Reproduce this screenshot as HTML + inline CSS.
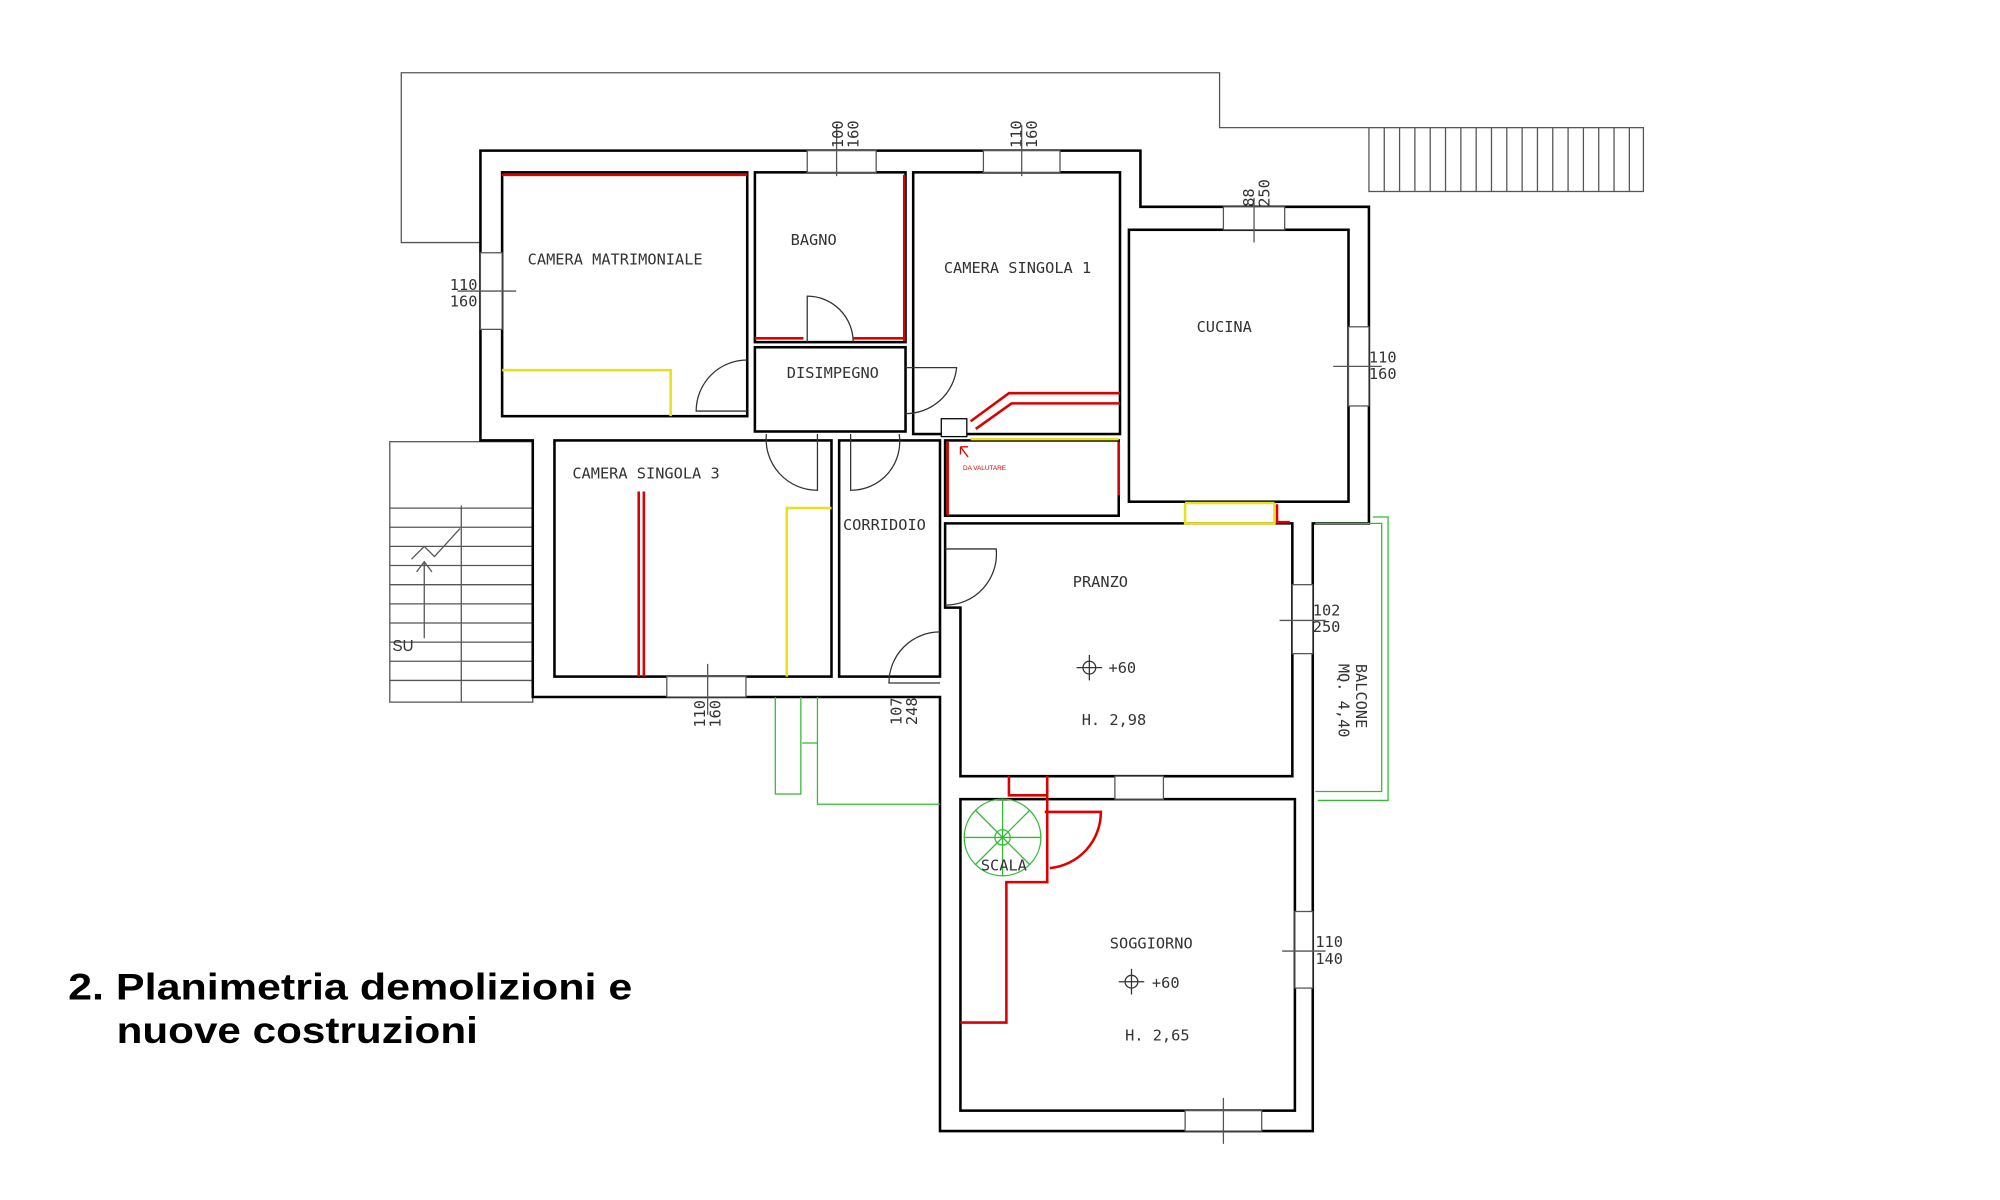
<!DOCTYPE html>
<html><head><meta charset="utf-8"><style>
html,body{margin:0;padding:0;background:#fff;}
svg{display:block}
.t{font-family:"DejaVu Sans Mono","Liberation Mono",monospace;font-size:12px;fill:#333;}
.n{font-family:"Liberation Sans",sans-serif;font-size:12px;fill:#333;}
.ttl{font-family:"Liberation Sans",sans-serif;font-weight:bold;font-size:29px;fill:#000;}
</style></head><body>
<svg width="2000" height="1200" viewBox="0 0 1566 940" xmlns="http://www.w3.org/2000/svg">
<rect width="1566" height="940" fill="#fff"/>
<g fill="none" stroke="#555" stroke-width="1">
<polyline points="376,190 314,190 314,57 955,57 955,100 1072,100"/>
<rect x="1072" y="100" width="215" height="50"/>
<path d="M1084,100v50M1096,100v50M1108,100v50M1120,100v50M1132,100v50M1144,100v50M1156,100v50M1168,100v50M1180,100v50M1192,100v50M1204,100v50M1216,100v50M1228,100v50M1240,100v50M1252,100v50M1264,100v50M1276,100v50"/>
<rect x="305" y="346" width="112" height="204"/>
<path d="M361,396v154M305,398h112M305,413h112M305,428h112M305,443h112M305,458h112M305,473h112M305,488h112M305,503h112M305,518h112M305,533h112M332,500v-60M326,448l6,-8l6,8M322,438l10,-10l8,8l20,-22"/>
</g>
<g fill="#fff" stroke="#000" stroke-width="2">
<polygon points="376,118 893,118 893,162 1072,162 1072,410 1028,410 1028,886 736,886 736,546 417,546 417,345 376,345"/>
<rect x="393" y="135" width="192" height="191"/>
<rect x="591" y="135" width="118" height="133"/>
<rect x="591" y="272" width="118" height="66"/>
<rect x="715" y="135" width="162" height="205"/>
<rect x="884" y="180" width="172" height="213"/>
<rect x="434" y="345" width="217" height="185"/>
<rect x="657" y="345" width="79" height="185"/>
<rect x="740" y="345" width="136" height="59"/>
<polygon points="740,410 1012,410 1012,608 752,608 752,476 740,476"/>
<rect x="752" y="626" width="262" height="244"/>
</g>
<g fill="#fff" stroke="#555" stroke-width="1">
<rect x="632" y="118" width="54" height="17"/><rect x="770" y="118" width="60" height="17"/>
<rect x="958" y="162" width="48" height="18"/><rect x="376" y="198" width="17" height="60"/>
<rect x="1056" y="256" width="16" height="62"/><rect x="522" y="530" width="62" height="16"/>
<rect x="1012" y="458" width="16" height="54"/><rect x="1014" y="714" width="14" height="60"/>
<rect x="928" y="870" width="60" height="16"/><rect x="873" y="608" width="38" height="18"/>
<path d="M655,98v40M800,98v40M982,155v35M358,228h46M1044,287h38M554,520v40M1002,486h36M1004,745h34M958,860v36"/>
</g>
<g fill="none" stroke="#333" stroke-width="1">
<path d="M632,268v-36a36,36 0 0 1 36,36M585,282a40,40 0 0 0 -40,40h40M709,288h40a40,40 0 0 1 -40,36M600,340a40,40 0 0 0 40,44v-44M666,340v44a38,38 0 0 0 38,-44M740,430h40a40,40 0 0 1 -40,44M736,495a40,40 0 0 0 -40,40h40"/>
<rect x="737" y="328" width="20" height="14" fill="#fff" stroke="#000"/>
</g>
<g fill="none" stroke="#d00" stroke-width="2">
<path d="M393,137h192M708,137v130M668,265h40M591,265h38M500,385v145M504,385v145M760,330l30,-22h87M764,336l28,-20h85M742,346v58M876,346v42M1000,395v14h10M790,608v15h30v68h-32v110h-36M820,608v65M818,636h44a44,44 0 0 1 -40,44"/>
</g>
<g fill="none" stroke="#e8e020" stroke-width="2">
<path d="M393,290h132v36M616,530v-132h35M760,344h116M928,394v16h70v-16M928,394h70"/>
</g>
<g fill="none" stroke="#3b3" stroke-width="1">
<path d="M607,546v76h20v-76M640,546v84h96M1030,410h52v210h-52M1075,405h12v222h-55"/>
<circle cx="785" cy="656" r="30"/><circle cx="785" cy="656" r="6"/>
<path d="M785,626v60M755,656h60M764,635l42,42M806,635l-42,42M628,582h12"/>
</g>
<g class="t">
<text x="413" y="207">CAMERA MATRIMONIALE</text>
<text x="619" y="192">BAGNO</text>
<text x="739" y="214">CAMERA SINGOLA 1</text>
<text x="937" y="260">CUCINA</text>
<text x="616" y="296">DISIMPEGNO</text>
<text x="448" y="375">CAMERA SINGOLA 3</text>
<text x="660" y="415">CORRIDOIO</text>
<text x="840" y="460">PRANZO</text>
<text x="868" y="527">+60</text>
<text x="847" y="568">H. 2,98</text>
<text x="768" y="682">SCALA</text>
<text x="869" y="743">SOGGIORNO</text>
<text x="902" y="774">+60</text>
<text x="881" y="815">H. 2,65</text>
<text x="352" y="227">110</text><text x="352" y="240">160</text>
<text x="1072" y="284">110</text><text x="1072" y="297">160</text>
<text x="1028" y="482">102</text><text x="1028" y="495">250</text>
<text x="1030" y="742">110</text><text x="1030" y="755">140</text>
<text transform="translate(660,116) rotate(-90)">100</text><text transform="translate(672,116) rotate(-90)">160</text>
<text transform="translate(800,116) rotate(-90)">110</text><text transform="translate(812,116) rotate(-90)">160</text>
<text transform="translate(982,162) rotate(-90)">88</text><text transform="translate(994,162) rotate(-90)">250</text>
<text transform="translate(552,570) rotate(-90)">110</text><text transform="translate(564,570) rotate(-90)">160</text>
<text transform="translate(706,568) rotate(-90)">107</text><text transform="translate(718,568) rotate(-90)">248</text>
<text transform="translate(1062,520) rotate(90)">BALCONE</text>
<text transform="translate(1048,520) rotate(90)">MQ. 4,40</text>
</g>
<text x="754" y="368" font-family="Liberation Sans" font-size="5" fill="#d00">DA VALUTARE</text>
<path d="M752,350l6,8M752,350v6M752,350h6" stroke="#d00" fill="none"/>
<g stroke="#333" fill="none"><circle cx="853" cy="523" r="5"/><path d="M843,523h20M853,513v20"/><circle cx="886" cy="769" r="5"/><path d="M876,769h20M886,759v20"/></g>
<text x="307" y="510" class="n" font-size="15">SU</text>
<text x="53" y="783" class="ttl" textLength="442" lengthAdjust="spacingAndGlyphs">2. Planimetria demolizioni e</text>
<text x="91" y="817" class="ttl" textLength="283" lengthAdjust="spacingAndGlyphs">nuove costruzioni</text>
</svg>
</body></html>
